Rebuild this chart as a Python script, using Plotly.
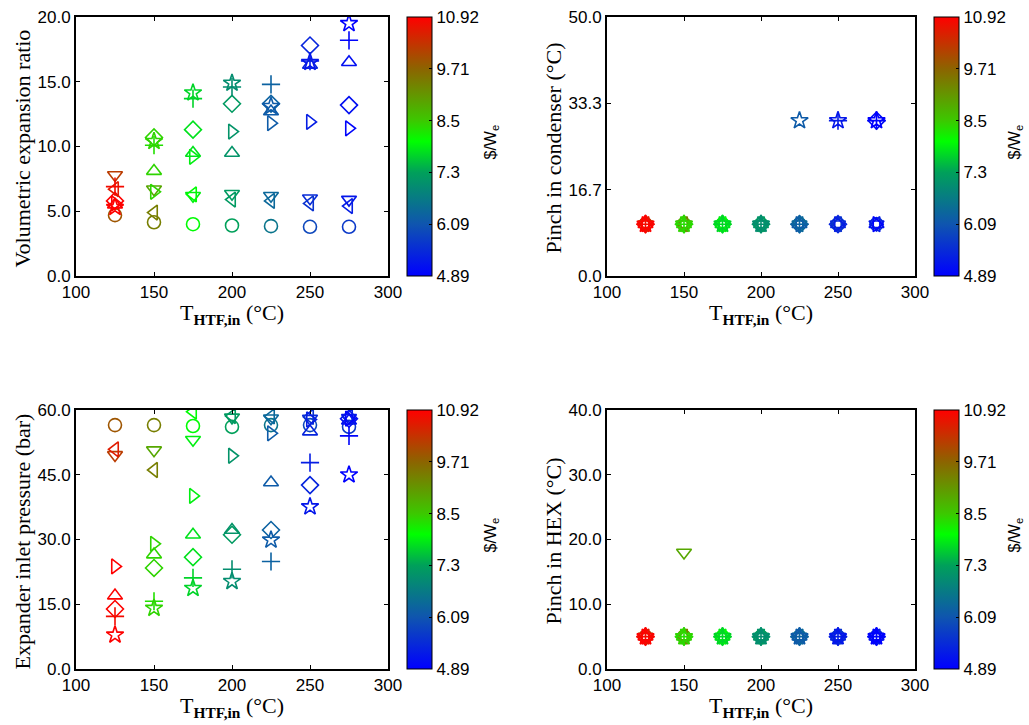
import plotly.graph_objects as go

# ---------------- data ----------------
T_HTF = [125, 150, 175, 200, 225, 250, 275]
fluid_symbols = ["circle-open", "diamond-open", "triangle-up-open", "triangle-down-open",
                 "triangle-left-open", "triangle-right-open", "cross-thin-open", "star-open"]

# rows follow fluid_symbols order
expansion_ratio = [
    [4.7, 4.15, 4.0, 3.9, 3.85, 3.8, 3.8],
    [5.8, 10.7, 11.3, 13.3, 13.3, 17.8, 13.2],
    [5.5, 8.1, 9.5, 9.5, 12.7, 16.3, 16.5],
    [7.8, 6.7, 6.2, 6.35, 6.2, 6.0, 5.9],
    [6.7, 4.9, 6.3, 5.9, 5.8, 5.6, 5.4],
    [5.6, 6.5, 9.2, 11.15, 11.8, 11.9, 11.4],
    [6.9, 10.1, 13.7, 14.6, 14.8, 16.6, 18.2],
    [5.3, 10.4, 14.15, 14.9, 13.1, 16.5, 19.5],
]
pinch_condenser = [
    [10, 10, 10, 10, 10, 10, 10],
    [10, 10, 10, 10, 10, 10, 30],
    [10, 10, 10, 10, 10, 10, 10],
    [10, 10, 10, 10, 10, 10, 10],
    [10, 10, 10, 10, 10, 10, 10],
    [10, 10, 10, 10, 10, 10, 10],
    [10, 10, 10, 10, 10, 30, 30],
    [10, 10, 10, 10, 30, 30, 30],
]
inlet_pressure = [
    [56.5, 56.5, 56.3, 56.1, 56.5, 56.5, 56.1],
    [13.9, 23.4, 25.9, 31.1, 32.2, 42.6, 58.0],
    [17.0, 26.5, 31.1, 32.2, 43.2, 55.0, 57.5],
    [49.6, 50.7, 53.1, 58.3, 58.1, 58.0, 58.2],
    [50.9, 46.1, 59.6, 58.6, 58.5, 58.4, 58.4],
    [23.75, 29.0, 40.1, 49.4, 54.6, 57.8, 58.0],
    [12.2, 15.7, 21.1, 23.1, 24.9, 47.8, 54.0],
    [7.9, 14.1, 18.7, 20.3, 29.9, 37.6, 45.0],
]
pinch_hex = [
    [5, 5, 5, 5, 5, 5, 5],
    [5, 5, 5, 5, 5, 5, 5],
    [5, 5, 5, 5, 5, 5, 5],
    [5, 18, 5, 5, 5, 5, 5],
    [5, 5, 5, 5, 5, 5, 5],
    [5, 5, 5, 5, 5, 5, 5],
    [5, 5, 5, 5, 5, 5, 5],
    [5, 5, 5, 5, 5, 5, 5],
]
cost_per_watt = [
    [9.9, 9.4, 8.0, 7.3, 6.6, 5.9, 5.7],
    [10.9, 8.4, 7.8, 7.2, 6.3, 5.4, 5.1],
    [10.9, 8.4, 7.8, 7.1, 6.2, 5.4, 5.1],
    [10.2, 8.9, 7.9, 7.2, 6.4, 5.5, 5.2],
    [10.6, 9.4, 8.0, 7.2, 6.4, 5.6, 5.3],
    [10.92, 8.4, 7.9, 7.1, 6.2, 5.3, 4.95],
    [10.8, 8.3, 7.7, 7.0, 6.3, 5.3, 4.95],
    [10.9, 8.4, 7.7, 7.0, 6.2, 5.2, 4.89],
]
cbar_ticks = [4.89, 6.09, 7.3, 8.5, 9.71, 10.92]
cbar_ticktext = ["4.89", "6.09", "7.3", "8.5", "9.71", "10.92"]

# ---------------- layout helpers ----------------
W, H = 1029, 725
def px(x): return x / W
def py(y): return 1 - y / H

col_x = [(76, 388), (607, 915)]
row_y = [(17, 276), (410, 669)]

SANS = "Liberation Sans, Arial, sans-serif"
SERIF = "Liberation Serif, Times New Roman, serif"

colorscale = [
    [0.0, "rgb(0,0,255)"],
    [0.2, "rgb(15,85,175)"],
    [0.4, "rgb(0,160,90)"],
    [0.52, "rgb(0,255,0)"],
    [0.6, "rgb(60,200,0)"],
    [0.8, "rgb(140,100,0)"],
    [1.0, "rgb(255,0,0)"],
]

fig = go.Figure()

panels = [
    (expansion_ratio, 0, 0, [0, 20], [0, 5, 10, 15, 20], ["0.0", "5.0", "10.0", "15.0", "20.0"],
     "Volumetric expansion ratio"),
    (pinch_condenser, 0, 1, [0, 50], [0, 50/3, 100/3, 50], ["0.0", "16.7", "33.3", "50.0"],
     "Pinch in condenser (°C)"),
    (inlet_pressure, 1, 0, [0, 60], [0, 15, 30, 45, 60], ["0.0", "15.0", "30.0", "45.0", "60.0"],
     "Expander inlet pressure (bar)"),
    (pinch_hex, 1, 1, [0, 40], [0, 10, 20, 30, 40], ["0.0", "10.0", "20.0", "30.0", "40.0"],
     "Pinch in HEX (°C)"),
]

annotations = []
for k, (data, r, c, yr, yt, ytt, ytitle) in enumerate(panels):
    idx = k + 1
    sfx = "" if idx == 1 else str(idx)
    x0, x1 = col_x[c]
    y0, y1 = row_y[r]
    ca = "coloraxis" + sfx
    for f, sym in enumerate(fluid_symbols):
        fig.add_trace(go.Scatter(
            x=T_HTF, y=data[f], mode="markers",
            xaxis="x" + sfx, yaxis="y" + sfx,
            marker=dict(symbol=sym, size=13, color=cost_per_watt[f], coloraxis=ca,
                        line=dict(width=1.6)),
            showlegend=False, hoverinfo="x+y",
        ))
    axis_common = dict(showline=True, linecolor="black", linewidth=2, mirror="allticks",
                       ticks="inside", ticklen=4, tickwidth=1, tickcolor="black",
                       showgrid=False, zeroline=False, automargin=False,
                       tickfont=dict(family=SANS, size=17, color="black"))
    fig.update_layout(**{
        "xaxis" + sfx: dict(domain=[px(x0), px(x1)], range=[100, 300],
                            tickvals=[100, 150, 200, 250, 300], anchor="y" + sfx, **axis_common),
        "yaxis" + sfx: dict(domain=[py(y1), py(y0)], range=yr, tickvals=yt, ticktext=ytt,
                            anchor="x" + sfx, **axis_common),
        ca: dict(cmin=4.89, cmax=10.92, colorscale=colorscale,
                 colorbar=dict(x=px(x1 + 19), xanchor="left", xpad=0, ypad=0,
                               y=py((y0 + y1) / 2), yanchor="middle",
                               lenmode="pixels", len=y1 - y0, thickness=25,
                               outlinewidth=1, outlinecolor="black",
                               tickvals=cbar_ticks, ticktext=cbar_ticktext,
                               ticks="inside", ticklen=3, tickcolor="black",
                               tickfont=dict(family=SANS, size=17, color="black"))),
    })
    # y title
    annotations.append(dict(x=px(x0 - 54), y=py((y0 + y1) / 2 + 2), xref="paper", yref="paper",
                            text=ytitle, textangle=-90, showarrow=False,
                            xanchor="center", yanchor="middle",
                            font=dict(family=SERIF, size=22, color="black")))
    # x title
    annotations.append(dict(x=px((x0 + x1) / 2), y=py(y1 + 38), xref="paper", yref="paper",
                            text="T<sub><b>HTF,in</b></sub> (°C)", showarrow=False,
                            xanchor="center", yanchor="middle",
                            font=dict(family=SERIF, size=22, color="black")))
    # colorbar title
    annotations.append(dict(x=px(min(x1 + 103, W - 14)), y=py((y0 + y1) / 2 - 4),
                            xref="paper", yref="paper",
                            text="$/W<sub>e</sub>", textangle=-90, showarrow=False,
                            xanchor="center", yanchor="middle",
                            font=dict(family=SANS, size=16, color="black")))

fig.update_layout(width=W, height=H, margin=dict(l=0, r=0, t=0, b=0),
                  paper_bgcolor="white", plot_bgcolor="white", template="none",
                  annotations=annotations, showlegend=False)

fig.write_html("out.html")
